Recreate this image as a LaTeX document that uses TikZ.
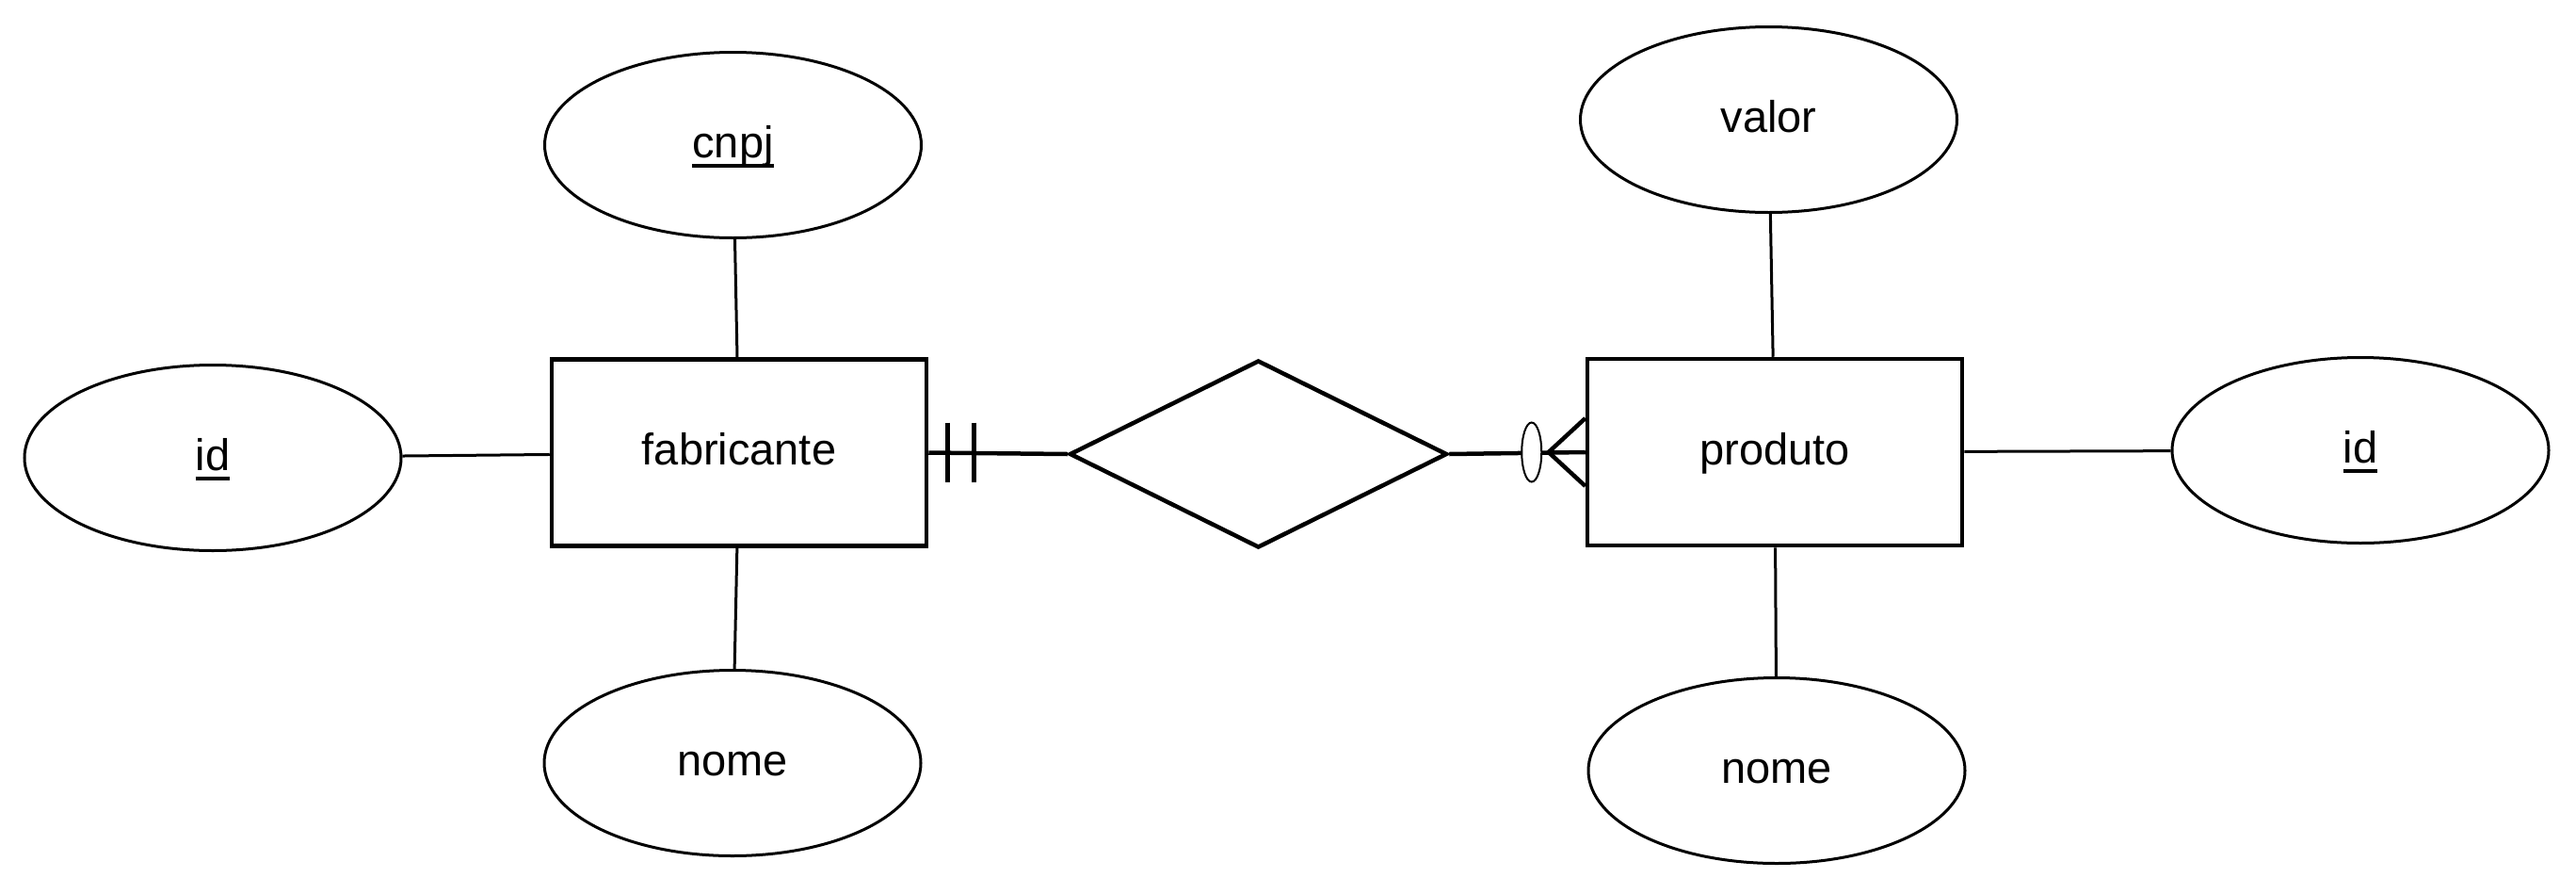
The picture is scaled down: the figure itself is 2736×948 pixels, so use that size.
\documentclass[tikz,border=0pt]{standalone}
\usepackage{fontspec}
\setmainfont{Liberation Sans}
\usetikzlibrary{shapes.geometric,calc}

% underlined key attribute
\newcommand{\keyattr}[1]{\setbox0\hbox{#1}\rlap{\raisebox{-10.5pt}{\rule{\wd0}{3.5pt}}}\box0}

\begin{document}
\begin{tikzpicture}[x=1pt,y=-1pt,
  every node/.style={font=\fontsize{47}{56}\selectfont, inner sep=0pt, text height=26pt, text depth=0pt},
  entity/.style={draw, line width=4.5pt, rectangle, minimum width=398pt, minimum height=198pt, fill=white},
  attr/.style={draw, line width=3pt, ellipse, minimum width=400pt, minimum height=197pt, fill=white},
  relation/.style={draw, line width=4.5pt, diamond, minimum width=401pt, minimum height=199pt, fill=white},
  attrlink/.style={line width=3pt},
  rellink/.style={line width=4.5pt},
  optmark/.style={draw, line width=2pt, ellipse, minimum width=21pt, minimum height=63pt, fill=white, text height=0pt}
]
\useasboundingbox (0,0) rectangle (2736,948);
\fill[white] (0,0) rectangle (2736,948);

% entities and relationship
\node[entity] (fab) at (785,480.5) {fabricante};
\node[entity] (prod) at (1885,480) {produto};
\node[relation] (rel) at (1336.5,482) {};

% attributes
\node[attr] (cnpj) at (778.5,154) {\keyattr{cnpj}};
\node[attr] (idf) at (226,486) {\keyattr{id}};
\node[attr] (nomef) at (778,810) {nome};
\node[attr] (valor) at (1878.5,127) {valor};
\node[attr] (idp) at (2507,478) {\keyattr{id}};
\node[attr] (nomep) at (1887,818) {nome};

% attribute links
\draw[attrlink] (cnpj) -- (fab);
\draw[attrlink] (idf) -- (fab);
\draw[attrlink] (nomef) -- (fab);
\draw[attrlink] (valor) -- (prod);
\draw[attrlink] (idp) -- (prod);
\draw[attrlink] (nomep) -- (prod);

% fabricante side: exactly one
\draw[rellink] (fab.east) -- (rel.west);
\draw[rellink] ($(fab.east)+(20,-32)$) -- ($(fab.east)+(20,31)$);
\draw[rellink] ($(fab.east)+(48,-32)$) -- ($(fab.east)+(48,31)$);

% produto side: zero or many
\coordinate (foot) at ($(prod.west)+(-39,0)$);
\draw[rellink] (rel.east) -- (prod.west);
\draw[rellink] ($(prod.west)+(0,-36)$) -- (foot) -- ($(prod.west)+(0,36)$);
\node[optmark] (opt) at ($(prod.west)+(-57,0)$) {};
\end{tikzpicture}
\end{document}
